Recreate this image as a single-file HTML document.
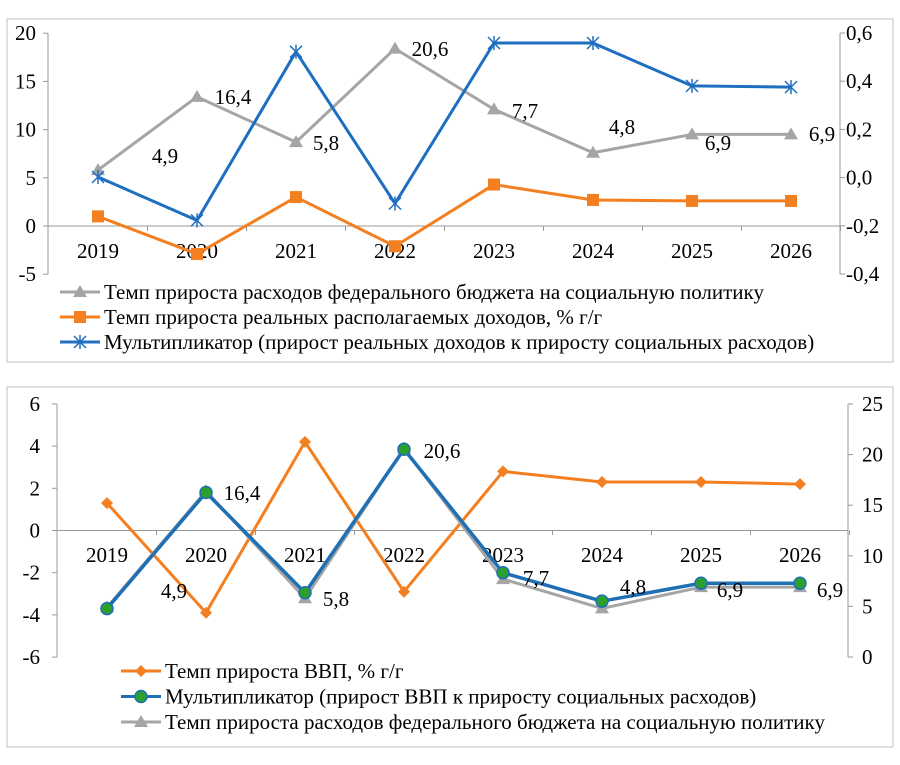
<!DOCTYPE html>
<html><head><meta charset="utf-8"><style>
body{margin:0;background:#fff;width:900px;height:760px;overflow:hidden}
svg text{font-family:"Liberation Serif",serif;fill:#000}
</style></head><body>
<svg id="s" width="900" height="760">
<rect x="7" y="19" width="886" height="343" fill="none" stroke="#bfbfbf"/>
<rect x="7" y="387" width="886" height="360" fill="none" stroke="#bfbfbf"/>
<g id="g1"></g><g id="g2"></g>
</svg>
<script>
const years=["2019","2020","2021","2022","2023","2024","2025","2026"];
const t1Spend=[5.8,13.4,8.7,18.4,12.1,7.6,9.5,9.5];
const t1Income=[1.0,-2.9,3.0,-2.1,4.3,2.7,2.6,2.6];
const t1Mult=[0.0,-0.18,0.52,-0.11,0.556,0.556,0.378,0.373];
const spendLabels=["4,9","16,4","5,8","20,6","7,7","4,8","6,9","6,9"];
const t1LeftTicks=[20,15,10,5,0,-5];
const t1RightTicks=["0,6","0,4","0,2","0,0","-0,2","-0,4"];
const b1Gdp=[1.3,-3.9,4.2,-2.9,2.8,2.3,2.3,2.2];
const b1Mult=[-3.7,1.8,-2.95,3.85,-2.0,-3.35,-2.5,-2.5];
const b1Spend=[4.9,16.4,5.8,20.6,7.7,4.8,6.9,6.9];
const b1LeftTicks=[6,4,2,0,-2,-4,-6];
const b1RightTicks=[25,20,15,10,5,0];
const NS="http://www.w3.org/2000/svg";
const FS=21;
function mk(p,tag,a,txt){const e=document.createElementNS(NS,tag);for(const k in a)e.setAttribute(k,a[k]);if(txt!==undefined)e.textContent=txt;p.appendChild(e);return e;}
function tri(p,x,y,c){return mk(p,'path',{d:`M${x} ${y-7}L${x+7} ${y+5}L${x-7} ${y+5}Z`,fill:c});}
function sq(p,x,y,c){return mk(p,'rect',{x:x-6,y:y-6,width:12,height:12,fill:c});}
function star(p,x,y,c){return mk(p,'path',{d:`M${x-6} ${y-6}L${x+6} ${y+6}M${x+6} ${y-6}L${x-6} ${y+6}M${x} ${y-7}V${y+7}`,stroke:c,'stroke-width':1.5});}
function dia(p,x,y,c){return mk(p,'path',{d:`M${x} ${y-6}L${x+6} ${y}L${x} ${y+6}L${x-6} ${y}Z`,fill:c});}
function circ(p,x,y){return mk(p,'circle',{cx:x,cy:y,r:6,fill:'#2ca02c',stroke:'#1f6fb5','stroke-width':1.5});}
function series(p,name,vals,X,Y,color,w,marker){
  const g=mk(p,'g',{});
  
  
  mk(g,'polyline',{points:vals.map((v,i)=>X(i)+','+Y(v)).join(' '),fill:'none',stroke:color,'stroke-width':w,'stroke-linejoin':'round'});
  vals.forEach((v,i)=>{const m=marker(g,X(i),Y(v),color);});
}
// top chart
(function(){
  const g=document.getElementById('g1');
  const X=i=>98+i*99, Y=v=>226-v*9.64, YR=v=>177-v*241;
  mk(g,'line',{x1:48,y1:33,x2:48,y2:274,stroke:'#999'});
  mk(g,'line',{x1:840,y1:33,x2:840,y2:274,stroke:'#999'});
  mk(g,'line',{x1:48,y1:226,x2:840,y2:226,stroke:'#999'});
  t1LeftTicks.forEach(t=>{mk(g,'line',{x1:43,y1:Y(t),x2:48,y2:Y(t),stroke:'#999'});const e=mk(g,'text',{x:36,y:Y(t)+7,'font-size':FS,'text-anchor':'end'},t);});
  t1RightTicks.forEach((t,i)=>{const y=33+i*48.2;mk(g,'line',{x1:840,y1:y,x2:845,y2:y,stroke:'#999'});const e=mk(g,'text',{x:846,y:y+7,'font-size':FS},t);});
  years.forEach((yr,i)=>{mk(g,'line',{x1:X(i)+49.5,y1:226,x2:X(i)+49.5,y2:231,stroke:'#999'});const e=mk(g,'text',{x:X(i),y:258,'font-size':FS,'text-anchor':'middle'},yr);});
  series(g,'spending-growth-series',t1Spend,X,Y,'#a5a5a5',3,tri);
  series(g,'income-growth-series',t1Income,X,Y,'#f47f20',3,sq);
  series(g,'multiplier-series',t1Mult,X,YR,'#1f6fc0',3,star);
  const lp=[[165,163],[233,104],[326,150],[430,56],[525,118],[622,134],[718,150],[822,141]];
  spendLabels.forEach((l,i)=>{const e=mk(g,'text',{x:lp[i][0],y:lp[i][1],'font-size':FS,'text-anchor':'middle'},l);});
  const leg=[['Темп прироста расходов федерального бюджета на социальную политику','#a5a5a5',tri],['Темп прироста реальных располагаемых доходов, % г/г','#f47f20',sq],['Мультипликатор (прирост реальных доходов к приросту социальных расходов)','#1f6fc0',star]];
  leg.forEach((l,i)=>{const y=292+i*25;const lg=mk(g,'g',{});mk(lg,'line',{x1:60,y1:y,x2:100,y2:y,stroke:l[1],'stroke-width':3});l[2](lg,80,y,l[1]);mk(lg,'text',{x:104,y:y+7,'font-size':FS},l[0]);});
})();
// bottom chart
(function(){
  const g=document.getElementById('g2');
  const X=i=>107+i*99, Y=v=>530.5-v*21.1, YR=v=>657-v*10.12;
  mk(g,'line',{x1:57,y1:404,x2:57,y2:657,stroke:'#999'});
  mk(g,'line',{x1:848,y1:404,x2:848,y2:657,stroke:'#999'});
  mk(g,'line',{x1:57,y1:530.5,x2:848,y2:530.5,stroke:'#999'});
  b1LeftTicks.forEach(t=>{mk(g,'line',{x1:52,y1:Y(t),x2:57,y2:Y(t),stroke:'#999'});const e=mk(g,'text',{x:40,y:Y(t)+7,'font-size':FS,'text-anchor':'end'},t);});
  b1RightTicks.forEach(t=>{mk(g,'line',{x1:848,y1:YR(t),x2:853,y2:YR(t),stroke:'#999'});const e=mk(g,'text',{x:862,y:YR(t)+7,'font-size':FS},t);});
  years.forEach((yr,i)=>{mk(g,'line',{x1:X(i)+49.5,y1:530.5,x2:X(i)+49.5,y2:535,stroke:'#999'});const e=mk(g,'text',{x:X(i),y:562,'font-size':FS,'text-anchor':'middle'},yr);});
  series(g,'gdp-growth-series',b1Gdp,X,Y,'#f47f20',3,dia);
  series(g,'spending-growth-series',b1Spend,X,YR,'#a5a5a5',3,tri);
  series(g,'multiplier-series',b1Mult,X,Y,'#1f6fb5',3.5,circ);
  const lp=[[174,598],[242,500],[336,606],[442,458],[536,585],[633,594],[730,597],[830,597]];
  spendLabels.forEach((l,i)=>{const e=mk(g,'text',{x:lp[i][0],y:lp[i][1],'font-size':FS,'text-anchor':'middle'},l);});
  const leg=[['Темп прироста ВВП, % г/г','#f47f20',dia],['Мультипликатор (прирост ВВП к приросту социальных расходов)','#1f6fb5',circ],['Темп прироста расходов федерального бюджета на социальную политику','#a5a5a5',tri]];
  leg.forEach((l,i)=>{const y=671+i*25.5;const lg=mk(g,'g',{});mk(lg,'line',{x1:121,y1:y,x2:161,y2:y,stroke:l[1],'stroke-width':3});l[2](lg,141,y,l[1]);mk(lg,'text',{x:165,y:y+7,'font-size':FS},l[0]);});
})();
</script>
</body></html>
